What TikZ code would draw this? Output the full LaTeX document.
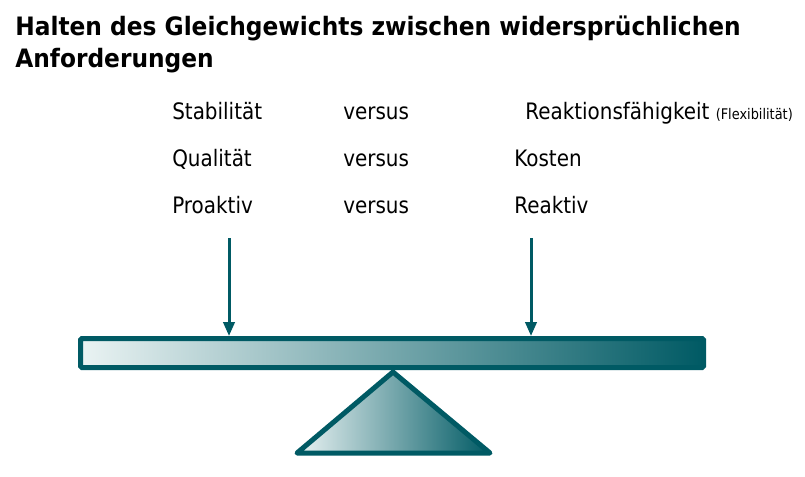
\documentclass[tikz,border=0pt]{standalone}
\usepackage{fontspec}
\setmainfont{DejaVu Sans}[FakeStretch=0.88]
\newfontfamily\titlefont{DejaVu Sans}[FakeStretch=0.92]
\usetikzlibrary{arrows.meta}
\definecolor{teal}{RGB}{0,90,100}
\definecolor{paleteal}{RGB}{234,243,243}
\tikzset{
  txt/.style={anchor=base west, inner sep=0pt, font=\fontsize{17}{19}\selectfont},
  ttl/.style={anchor=base west, inner sep=0pt,
              font=\titlefont\bfseries\fontsize{19}{23.5}\selectfont},
  force/.style={draw=teal, line width=2.25pt,
                -{Triangle[length=10.5pt,width=8.5pt]}},
}
\begin{document}
\begin{tikzpicture}[x=0.75pt,y=-0.75pt]
\useasboundingbox (0,0) rectangle (805,476);

% heading
\node[ttl] (title1) at (15,35) {Halten des Gleichgewichts zwischen widersprüchlichen};
\node[ttl] (title2) at (15,67) {Anforderungen};

% opposing requirements
\node[txt] (stab) at (172,119) {Stabilität};
\node[txt] (vs1)  at (343,119) {versus};
\node[txt] (reak) at (525,119) {Reaktionsfähigkeit {\fontsize{11}{12}\selectfont (Flexibilität)}};
\node[txt] (qual) at (172,166) {Qualität};
\node[txt] (vs2)  at (343,166) {versus};
\node[txt] (kost) at (514,166) {Kosten};
\node[txt] (pro)  at (172,213) {Proaktiv};
\node[txt] (vs3)  at (343,213) {versus};
\node[txt] (rea)  at (514,213) {Reaktiv};

% beam of the balance
\shade[left color=paleteal, right color=teal] (80.5,338.5) rectangle (703.5,367.5);
\draw[teal, line width=3.75pt, rounded corners=1pt] (80.5,338.5) rectangle (703.5,367.5);
\coordinate (leftload)  at (229,336);
\coordinate (rightload) at (531,336);
\coordinate (lefttop)   at (229,238);
\coordinate (righttop)  at (531,238);

% fulcrum
\shade[left color=paleteal, right color=teal] (393,372) -- (490,453) -- (297,453) -- cycle;
\draw[teal, line width=3.75pt, line join=round] (393,372) -- (490,453) -- (297,453) -- cycle;

% forces acting on the beam
\draw[force] (lefttop) -- (leftload);
\draw[force] (righttop) -- (rightload);
\end{tikzpicture}
\end{document}
